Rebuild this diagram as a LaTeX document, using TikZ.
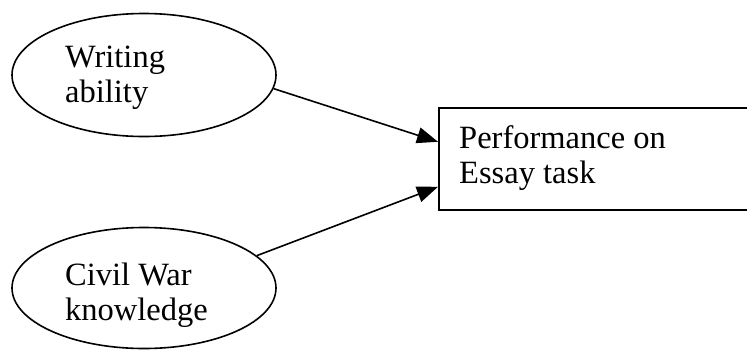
\documentclass[tikz,border=0pt]{standalone}
\usepackage{fontspec}
\setmainfont{Liberation Serif}
\usetikzlibrary{arrows.meta,shapes.geometric}
\begin{document}
\begin{tikzpicture}[x=1pt,y=-1pt,
  oval/.style={draw,ellipse,line width=1.6pt,minimum width=264pt,minimum height=123pt,inner sep=0pt},
  box/.style={draw,rectangle,line width=1.6pt,minimum width=330pt,minimum height=102pt,inner sep=0pt,anchor=north west},
  lbl/.style={anchor=base west,inner sep=0pt,font=\fontsize{32.5pt}{35pt}\selectfont},
  arr/.style={line width=1.6pt,-{Triangle[length=21pt,width=16pt]}}]
\useasboundingbox (0,0) rectangle (747,349);
\clip (0,0) rectangle (747,349);
\node[oval] (w1) at (144,75) {};
\node[oval,minimum height=121pt] (w2) at (144,288) {};
\node[box] (p) at (438,107) {};
\node[lbl] (t1) at (65,67) {Writing};
\node[lbl] (t2) at (65,102) {ability};
\node[lbl] (t3) at (65,285) {Civil War};
\node[lbl] (t4) at (65,320) {knowledge};
\node[lbl] (t5) at (459,148) {Performance on};
\node[lbl] (t6) at (459,183) {Essay task};
\coordinate (e1) at ([yshift=17pt]p.west);
\coordinate (e2) at ([yshift=-28pt]p.west);
\draw[arr] (w1.-6.5) -- (e1);
\draw[arr] (w2.16) -- (e2);
\end{tikzpicture}
\end{document}
